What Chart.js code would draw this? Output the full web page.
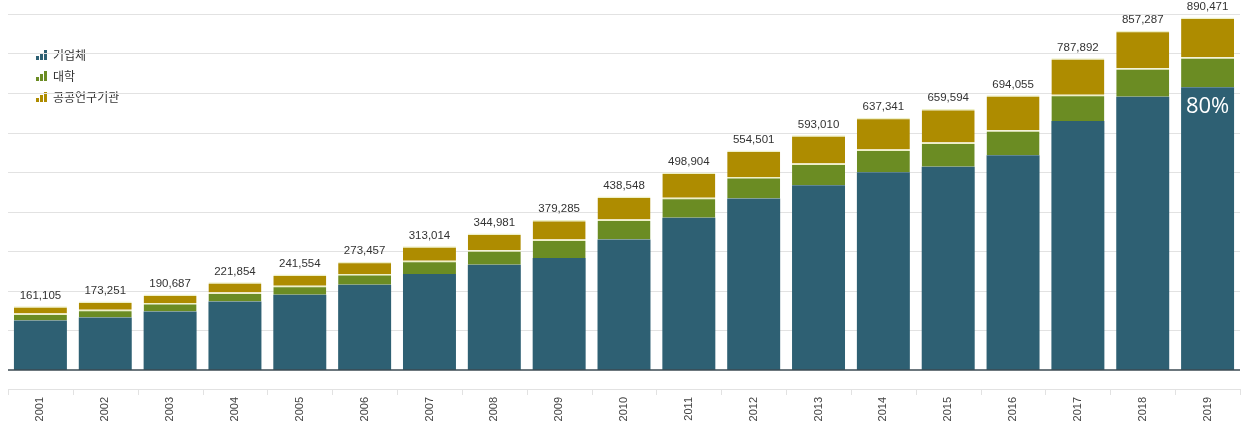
<!DOCTYPE html>
<html>
<head>
<meta charset="utf-8">
<script src="https://cdn.jsdelivr.net/npm/chart.js@4/dist/chart.umd.min.js"></script>
<style>
  html, body { margin:0; padding:0; background:#fff; }
  #wrap { width:1248px; height:422px; }
</style>
</head>
<body>
<div id="wrap"><canvas id="chart" width="1248" height="422"></canvas></div>
<script>
// === R&D by sector, 2001-2019 (억원) === //
const years = ["2001","2002","2003","2004","2005","2006","2007","2008","2009","2010",
               "2011","2012","2013","2014","2015","2016","2017","2018","2019"];
const totals = [161105,173251,190687,221854,241554,273457,313014,344981,379285,438548,
                498904,554501,593010,637341,659594,694055,787892,857287,890471];
const business = [125000,132600,147800,173000,190000,215500,242600,266000,283000,329600,
                  384500,433500,467000,500000,513800,542500,629400,690300,714600];
const university = [17500,19500,21300,22800,22800,27000,33700,36300,46500,50700,
                    50700,54000,55000,57500,60800,63400,65900,72000,76000];
const publicInst = [18605,21151,21587,26054,28754,30957,36714,42681,49785,58248,
                    63704,67001,71010,79841,84994,88155,92592,94987,99871];
const gridValues = [100000,200000,300000,400000,500000,600000,700000,800000,900000];
const seriesNames = ["기업체","대학","공공연구기관"];
const shareLabel = "80%";

const COLORS = ["#2e6073", "#6b8c23", "#ae8c00"];
const SEP = "#eef0c6";

// little bar-chart icon used as the legend marker
function legendIcon(color){
  const c = document.createElement("canvas");
  c.width = 11; c.height = 10;
  const g = c.getContext("2d");
  g.fillStyle = color;
  g.fillRect(0, 6, 3, 4);
  g.fillRect(4, 3, 3, 7);
  g.fillRect(8, 0, 3, 10);
  return c;
}
const icons = COLORS.map(legendIcon);

// ---- totals above bars + share label ---- //
const labelsPlugin = {
  id: "labels",
  afterDatasetsDraw(chart){
    const ctx = chart.ctx;
    const top = chart.getDatasetMeta(2).data;
    ctx.save();
    ctx.font = "11.5px Arial, 'Liberation Sans', sans-serif";
    ctx.fillStyle = "#333";
    ctx.textAlign = "center";
    ctx.textBaseline = "bottom";
    top.forEach((bar, i) => {
      ctx.fillText(totals[i].toLocaleString("en-US"), bar.x, bar.y - 5);
    });
    const last = chart.getDatasetMeta(0).data[years.length - 1];
    ctx.font = "22px 'Open Sans', 'DejaVu Sans', sans-serif";
    ctx.fillStyle = "#fff";
    ctx.textBaseline = "middle";
    ctx.fillText(shareLabel, last.x, last.y + 20);
    ctx.restore();
  }
};

// ---- light gridlines, zero line and secondary axis line ---- //
const axisPlugin = {
  id: "axisline",
  beforeDatasetsDraw(chart){
    const ctx = chart.ctx;
    const y = chart.scales.y;
    const { left, right } = chart.chartArea;
    ctx.save();
    ctx.strokeStyle = "#e2e2e2";
    ctx.lineWidth = 1;
    ctx.beginPath();
    gridValues.forEach(v => {
      const py = Math.round(y.getPixelForValue(v)) + 0.5;
      ctx.moveTo(left, py);
      ctx.lineTo(right, py);
    });
    ctx.stroke();
    ctx.restore();
  },
  afterDraw(chart){
    const ctx = chart.ctx;
    const x = chart.scales.x;
    const y0 = chart.chartArea.bottom + 19;
    const step = x.getPixelForValue(1) - x.getPixelForValue(0);
    ctx.save();
    ctx.strokeStyle = "#e2e2e2";
    ctx.lineWidth = 1;
    ctx.beginPath();
    ctx.moveTo(chart.chartArea.left, y0 + 0.5);
    ctx.lineTo(chart.chartArea.right, y0 + 0.5);
    for (let i = 0; i <= years.length; i++){
      const px = Math.round(x.getPixelForValue(0) - step / 2 + i * step) + 0.5;
      ctx.moveTo(px, y0);
      ctx.lineTo(px, y0 + 6);
    }
    ctx.stroke();
    // dark baseline
    ctx.strokeStyle = "#3b4a52";
    ctx.lineWidth = 1.5;
    ctx.beginPath();
    ctx.moveTo(chart.chartArea.left, chart.chartArea.bottom);
    ctx.lineTo(chart.chartArea.right, chart.chartArea.bottom);
    ctx.stroke();
    ctx.restore();
  }
};

// ---- nudge the in-chart legend away from the corner ---- //
const legendShift = {
  id: "legendShift",
  afterUpdate(chart){
    const l = chart.legend;
    if (!l) return;
    l.left += 27 - chart.chartArea.left; l.right += 27 - chart.chartArea.left;
    l.top += 40; l.bottom += 40;
    l.adjustHitBoxes();
  }
};

const sepBorder = { top: 1.5, left: 0, right: 0, bottom: 0 };

new Chart(document.getElementById("chart"), {
  type: "bar",
  data: {
    labels: years,
    datasets: [
      { label: seriesNames[0], data: business, backgroundColor: COLORS[0],
        borderColor: SEP, borderWidth: 0, borderSkipped: false },
      { label: seriesNames[1], data: university, backgroundColor: COLORS[1],
        borderColor: SEP, borderWidth: sepBorder, borderSkipped: false },
      { label: seriesNames[2], data: publicInst, backgroundColor: COLORS[2],
        borderColor: SEP, borderWidth: sepBorder, borderSkipped: false }
    ]
  },
  options: {
    responsive: false,
    animation: false,
    datasets: { bar: { categoryPercentage: 1, barPercentage: 0.817 } },
    layout: { padding: { left: 8, right: 8, top: 0, bottom: 0 } },
    scales: {
      x: {
        stacked: true,
        grid: { display: false },
        border: { display: false },
        afterFit: s => { s.height = 52; },
        ticks: {
          minRotation: 90, maxRotation: 90, padding: 19,
          color: "#444",
          font: { family: "Arial, 'Liberation Sans', sans-serif", size: 11 }
        }
      },
      y: {
        display: false,
        stacked: true,
        min: 0, max: 935000
      }
    },
    plugins: {
      tooltip: { enabled: false },
      legend: {
        position: "chartArea",
        align: "start",
        labels: {
          usePointStyle: true,
          pointStyleWidth: 11,
          generateLabels: chart => seriesNames.map((n, i) => ({
            text: n, pointStyle: icons[i], fillStyle: COLORS[i],
            strokeStyle: COLORS[i], lineWidth: 0, datasetIndex: i, fontColor: "#333"
          })),
          color: "#333",
          padding: 9,
          boxHeight: 11,
          font: { family: "'Noto Sans CJK KR', sans-serif", size: 12 }
        }
      }
    }
  },
  plugins: [labelsPlugin, axisPlugin, legendShift]
});
</script>
</body>
</html>
